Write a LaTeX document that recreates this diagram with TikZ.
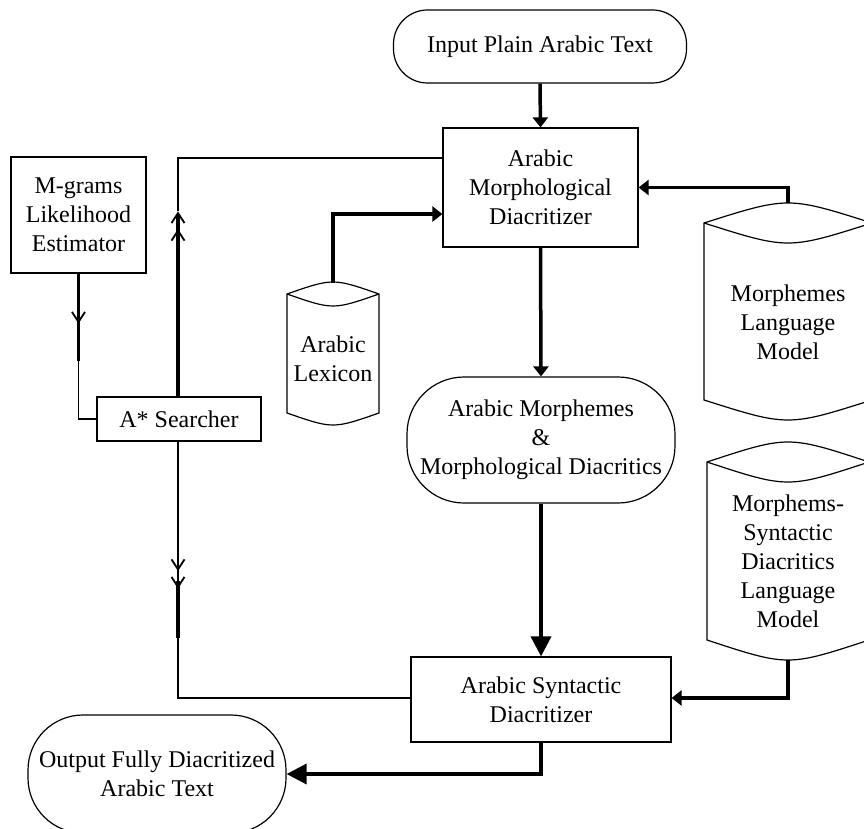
\documentclass[tikz,border=0pt]{standalone}
\usepackage{fontspec}
\setmainfont{Liberation Serif}
\usetikzlibrary{arrows.meta,calc}
\newcommand\dbcyl[6]{% L, R, top corner y, top bulge, bottom corner y, bottom bulge
  \pgfmathsetmacro\dbcx{(#1+#2)/2}
  \draw[outline] (#1,#3) .. controls (\dbcx,{#3-4*#4/3}) .. (#2,#3) -- (#2,#5)
     .. controls (\dbcx,{#5+4*#6/3}) .. (#1,#5) -- cycle;
  \draw[outline] (#1,#3) .. controls (\dbcx,{#3+4*#4/3}) .. (#2,#3);
}
\begin{document}
\begin{tikzpicture}[x=1pt,y=-1pt,
  font=\fontsize{24}{29}\selectfont,
  outline/.style={line width=1.2pt},
  box/.style={draw, line width=1.2pt, align=center, inner sep=0pt},
  txt/.style={align=center, inner sep=0pt},
  thickline/.style={line width=3.5pt},
  thinline/.style={line width=1.5pt},
  smalltip/.style={-{Triangle[length=10pt,width=15pt]}},
  bigtip/.style={-{Triangle[length=20pt,width=20pt]}},
  barb/.style={-{Straight Barb[length=10pt,width=13pt,line width=1.8pt]}},
  dblbarb/.style={-{Straight Barb[length=10pt,width=13pt,line width=1.8pt,sep=5pt]Straight Barb[length=10pt,width=13pt,line width=1.8pt]}},
  line join=miter]
\useasboundingbox (0,0) rectangle (864,829);
\clip (0,0) rectangle (864,829);

% nodes
\node[box, rounded corners=34pt, minimum width=293pt, minimum height=73pt] (in) at (540,46.5) {Input Plain Arabic Text};
\node[box, minimum width=195pt, minimum height=119pt] (morph) at (540.5,187.5) {Arabic\\Morphological\\Diacritizer};
\node[box, minimum width=135pt, minimum height=116pt] (mg) at (78.5,215) {M-grams\\Likelihood\\Estimator};
\node[box, minimum width=164pt, minimum height=44pt] (astar) at (179,419) {A* Searcher};
\node[box, rounded corners=57pt, minimum width=268pt, minimum height=126pt] (mid) at (541,440) {Arabic Morphemes\\\&\\Morphological Diacritics};
\node[box, minimum width=260pt, minimum height=85pt] (syn) at (541,699.5) {Arabic Syntactic\\Diacritizer};
\node[box, rounded corners=55pt, minimum width=258pt, minimum height=118pt] (out) at (157,774) {Output Fully Diacritized\\Arabic Text};

% cylinders
\dbcyl{287}{379}{294}{12}{413}{12}
\node[txt] (lex) at (333,359) {Arabic\\Lexicon};
\coordinate (lextop) at (333,283);
\dbcyl{704}{872}{223}{20}{400}{20}
\node[txt] (lm) at (788,322) {Morphemes\\Language\\Model};
\coordinate (lmtop) at (788,203);
\dbcyl{707}{869}{462}{20}{640}{20}
\node[txt] (ms) at (788,561) {Morphems-\\Syntactic\\Diacritics\\Language\\Model};
\coordinate (msbot) at (788,660);

% main flow
\draw[thickline, smalltip] (in.south) -- (morph.north);
\draw[thickline, smalltip] (lextop) |- ($(morph.west)+(0,26.5)$);
\draw[thickline, smalltip] (lmtop) |- (morph.east);
\draw[thickline, smalltip] (morph.south) -- (mid.north);
\draw[thickline, bigtip] (mid.south) -- (syn.north);
\draw[thickline, smalltip] (msbot) |- ($(syn.east)+(0,-1.5)$);
\draw[thickline, bigtip] (syn.south) |- (out.east);

% M-grams to A* searcher
\path (mg.south) ++(0,50) coordinate (ma) ++(0,37) coordinate (mb);
\draw[thickline] (mg.south) -- (mb);
\draw[thickline, barb] (mg.south) -- (ma);
\draw[thinline] (mb) |- (astar.west);

% A* searcher to morphological diacritizer
\draw[thickline, dblbarb] ($(astar.north)+(-1,0)$) -- ++(0,-185) coordinate (ua);
\draw[thinline] (ua) |- ($(morph.west)+(0,-29.5)$);

% A* searcher to syntactic diacritizer
\draw[thinline, dblbarb] ($(astar.south)+(-1,0)$) -- ++(0,147) coordinate (da);
\draw[thickline] ($(da)+(0,-8)$) -- ++(0,57) coordinate (db);
\draw[thinline] (db) |- ($(syn.west)+(0,-1.5)$);
\end{tikzpicture}
\end{document}
